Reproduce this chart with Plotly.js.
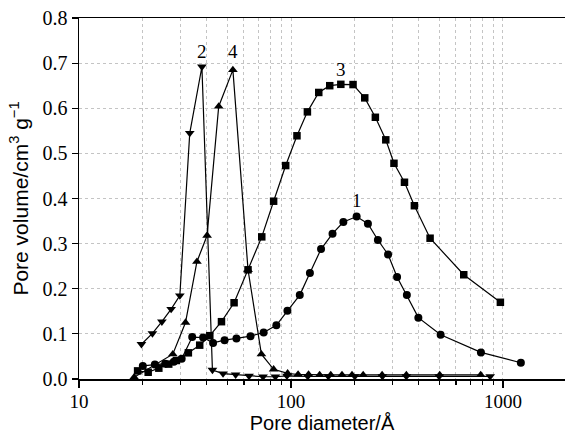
<!DOCTYPE html>
<html>
<head>
<meta charset="utf-8">
<script src="https://cdn.plot.ly/plotly-3.0.1.min.js"></script>
<style>html,body{margin:0;padding:0;background:#fff}#chart{width:565px;height:434px}</style>
</head>
<body>
<div id="chart"></div>
<script>
// Series 1 (circles)
const s1x = [20.0, 22.8, 25.5, 28.0, 30.5, 34.2, 38.5, 42.9, 48.6, 55.3, 64.4, 74.3, 85.3, 96.2, 110, 122.8, 138.6, 157, 176.6, 204, 230.6, 257, 287, 316.5, 352, 398.8, 508, 787, 1214];
const s1y = [0.029, 0.032, 0.034, 0.038, 0.045, 0.093, 0.092, 0.080, 0.086, 0.090, 0.095, 0.103, 0.119, 0.151, 0.186, 0.235, 0.288, 0.322, 0.348, 0.360, 0.344, 0.308, 0.276, 0.226, 0.186, 0.136, 0.098, 0.059, 0.036];
// Series 2 (down triangles)
const s2x = [19.7, 22.2, 24.6, 27.2, 29.9, 33.3, 38.0, 42.6, 47.8, 54.8, 63.4, 73.8, 84.4, 95.7, 120, 150, 200, 270, 350, 500, 870];
const s2y = [0.077, 0.101, 0.127, 0.155, 0.185, 0.545, 0.692, 0.020, 0.012, 0.0095, 0.0067, 0.005, 0.005, 0.007, 0.006, 0.006, 0.006, 0.006, 0.006, 0.006, 0.006];
// Series 3 (squares)
const s3x = [18.9, 21.2, 23.8, 26.5, 28.8, 32.8, 37.1, 41.4, 47.0, 53.9, 62.7, 72.8, 82.8, 94.4, 106.7, 119.5, 135.2, 152.3, 171.8, 196.2, 222.8, 250, 280, 306, 343, 382, 453, 653, 972];
const s3y = [0.018, 0.015, 0.024, 0.033, 0.041, 0.058, 0.075, 0.096, 0.127, 0.169, 0.242, 0.315, 0.394, 0.473, 0.539, 0.592, 0.635, 0.650, 0.653, 0.6525, 0.623, 0.580, 0.530, 0.478, 0.436, 0.384, 0.312, 0.231, 0.170];
// Series 4 (up triangles)
const s4x = [18.2, 27.7, 31.8, 36.0, 40.2, 45.6, 53.2, 62.7, 72.5, 82.8, 96.4, 108, 121, 136.5, 154, 174, 194, 219, 269, 350, 503, 785];
const s4y = [0.004, 0.055, 0.125, 0.260, 0.318, 0.604, 0.685, 0.242, 0.055, 0.0215, 0.0125, 0.010, 0.010, 0.009, 0.009, 0.009, 0.009, 0.009, 0.009, 0.009, 0.009, 0.009];
// Curve labels
const labelText = ["1", "2", "3", "4"];
const labelX = [204, 38.0, 172, 53.2];
const labelY = [0.395, 0.725, 0.685, 0.725];

const lineStyle = {color: '#000', width: 1.2};
function tr(x, y, sym, size) {
  return {x: x, y: y, type: 'scatter', mode: 'lines+markers',
    line: lineStyle, marker: {symbol: sym, size: size, color: '#000'}, showlegend: false, cliponaxis: false};
}
const data = [
  tr(s1x, s1y, 'circle', 8),
  tr(s3x, s3y, 'square', 7.5),
  tr(s4x, s4y, 'triangle-up', 8.5),
  tr(s2x, s2y, 'triangle-down', 8.5)
];
const gridc = '#c4c4c4';
const layout = {
  width: 565, height: 434,
  margin: {l: 79, r: 0, t: 18, b: 55},
  paper_bgcolor: '#fff', plot_bgcolor: '#fff',
  showlegend: false,
  xaxis: {
    type: 'log', range: [1, 3.2925],
    tickvals: [10, 100, 1000], ticktext: ['10', '100', '1000'],
    ticks: 'outside', ticklen: 7, tickcolor: '#000', tickwidth: 1.2,
    ticklabelstandoff: -2,
    showline: true, linecolor: '#000', linewidth: 1.5, mirror: true,
    showgrid: true, gridcolor: gridc, griddash: 'dot', gridwidth: 1,
    zeroline: false,
    minor: {dtick: 'D1', ticks: 'outside', ticklen: 4, tickcolor: '#000', showgrid: true, gridcolor: gridc, griddash: 'dot', gridwidth: 1},
    tickfont: {family: 'Liberation Serif', size: 19, color: '#000'},
    title: {text: 'Pore diameter/Å', font: {family: 'Liberation Sans', size: 20, color: '#000'}, standoff: 6}
  },
  yaxis: {
    range: [0, 0.8], dtick: 0.1, tickformat: '.1f',
    ticks: 'outside', ticklen: 6, tickcolor: '#000', tickwidth: 1.2,
    showline: true, linecolor: '#000', linewidth: 1.5,
    showgrid: true, gridcolor: gridc, griddash: 'dot', gridwidth: 1,
    zeroline: false,
    tickfont: {family: 'Liberation Serif', size: 20, color: '#000'},
    title: {text: 'Pore volume/cm<sup>3</sup> g<sup>−1</sup>', font: {family: 'Liberation Sans', size: 21, color: '#000'}, standoff: 8}
  },
  annotations: labelText.map((t, i) => ({
    x: Math.log10(labelX[i]), y: labelY[i], xref: 'x', yref: 'y', text: t, showarrow: false,
    font: {family: 'Liberation Serif', size: 19, color: '#000'}
  }))
};
Plotly.newPlot('chart', data, layout, {displayModeBar: false, staticPlot: true});
</script>
</body>
</html>
